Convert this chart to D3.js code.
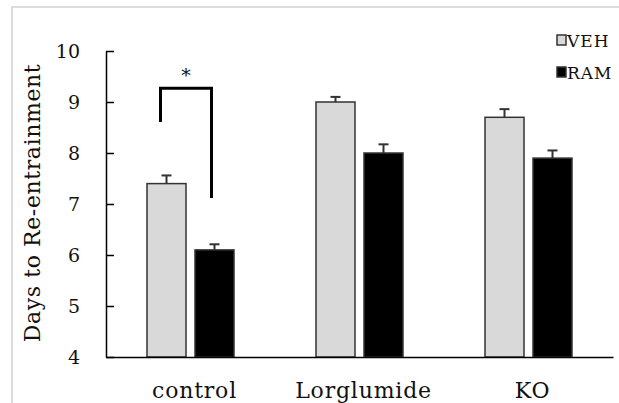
<!DOCTYPE html>
<html>
<head>
<meta charset="utf-8">
<script src="https://cdn.jsdelivr.net/npm/d3@7"></script>
<style>
  html, body { margin: 0; padding: 0; background: #fff; }
  svg, svg text { font-family: "DejaVu Serif", "Liberation Serif", serif; }
  svg { display: block; }
</style>
</head>
<body>
<div id="chart"></div>
<script>
// Days to re-entrainment, VEH vs RAM per group

const groups = ['control', 'Lorglumide', 'KO'];
const series = ['VEH', 'RAM'];
const vehValues = [7.4, 9.0, 8.7];
const ramValues = [6.1, 8.0, 7.9];
const vehErrors = [0.16, 0.10, 0.16];
const ramErrors = [0.11, 0.17, 0.15];
const yTicks = [4, 5, 6, 7, 8, 9, 10];
// significance bracket: group, bracket top, left leg end, right leg end
const sigBrackets = [{ group: 'control', top: 9.27, left: 8.61, right: 7.12, label: '*' }];

const colors = { VEH: '#d9d9d9', RAM: '#000000' };

const W = 619, H = 403;
const plot = { left: 106, right: 613, top: 51, bottom: 357 };

const svg = d3.select('#chart')
    .append('svg')
    .attr('width', W)
    .attr('height', H);

// light frame around the figure
svg.append('rect')
    .attr('x', 12)
    .attr('y', 7)
    .attr('width', W + 20)
    .attr('height', H + 20)
    .attr('fill', 'none')
    .attr('stroke', '#dcdcdc')
    .attr('stroke-width', 2);

const rows = groups.map((g, i) => ({
    group: g,
    VEH: { value: vehValues[i], err: vehErrors[i] },
    RAM: { value: ramValues[i], err: ramErrors[i] }
}));

// Scales
const x0 = d3.scaleBand()
    .domain(groups)
    .range([plot.left, plot.right]);

const x1 = d3.scaleBand()
    .domain(series)
    .range([41, 128])
    .paddingInner(0.1875);

const y = d3.scaleLinear()
    .domain([4, 10])
    .range([plot.bottom, plot.top]);

// Bars
const groupG = svg.selectAll('.group')
    .data(rows)
    .enter()
    .append('g')
    .attr('class', 'group')
    .attr('transform', d => `translate(${x0(d.group)},0)`);

groupG.selectAll('rect')
    .data(d => series.map(s => ({ key: s, value: d[s].value })))
    .enter()
    .append('rect')
    .attr('x', d => x1(d.key))
    .attr('y', d => y(d.value))
    .attr('width', x1.bandwidth())
    .attr('height', d => y(4) - y(d.value))
    .attr('fill', d => colors[d.key])
    .attr('stroke', '#333')
    .attr('stroke-width', 1.5);

// Error bars (upper only)
const errG = groupG.selectAll('.err')
    .data(d => series.map(s => ({ key: s, value: d[s].value, err: d[s].err })))
    .enter()
    .append('g')
    .attr('class', 'err')
    .attr('stroke', '#333')
    .attr('stroke-width', 2);

errG.append('line')
    .attr('x1', d => x1(d.key) + x1.bandwidth() / 2)
    .attr('x2', d => x1(d.key) + x1.bandwidth() / 2)
    .attr('y1', d => y(d.value))
    .attr('y2', d => y(d.value + d.err));

errG.append('line')
    .attr('x1', d => x1(d.key) + x1.bandwidth() / 2 - 5)
    .attr('x2', d => x1(d.key) + x1.bandwidth() / 2 + 5)
    .attr('y1', d => y(d.value + d.err))
    .attr('y2', d => y(d.value + d.err));

// Axes
const yAxis = svg.append('g')
    .attr('transform', `translate(${plot.left},0)`)
    .call(d3.axisLeft(y)
        .tickValues(yTicks)
        .tickFormat(d3.format('d'))
        .tickSizeInner(-8)
        .tickSizeOuter(0)
        .tickPadding(26));

yAxis.attr('font-family', null).attr('font-size', 19);
yAxis.select('.domain').attr('stroke', '#000').attr('stroke-width', 1.5);
yAxis.selectAll('.tick line').attr('stroke', '#000').attr('stroke-width', 1.5);
yAxis.selectAll('.tick text').attr('fill', '#111');

const xAxis = svg.append('g')
    .attr('transform', `translate(0,${plot.bottom})`)
    .call(d3.axisBottom(x0).tickSize(0).tickPadding(0));

xAxis.attr('font-family', null).attr('font-size', 22);
xAxis.select('.domain').attr('stroke', '#000').attr('stroke-width', 1.5);
xAxis.selectAll('.tick text')
    .attr('fill', '#111')
    .attr('letter-spacing', 0.8)
    .attr('dy', 0)
    .attr('x', 4)
    .attr('y', 41);

// Y-axis label
svg.append('text')
    .attr('transform', 'rotate(-90)')
    .attr('x', -203)
    .attr('y', 40)
    .attr('text-anchor', 'middle')
    .attr('font-size', 22)
    .attr('letter-spacing', 0.6)
    .attr('fill', '#111')
    .text('Days to Re-entrainment');

// Significance bracket
sigBrackets.forEach(b => {
    const lx = x0(b.group) + x1('VEH') + x1.bandwidth() / 2 - 6;
    const rx = x0(b.group) + x1('RAM') + x1.bandwidth() / 2 - 3;
    svg.append('path')
        .attr('d', `M${lx},${y(b.left)}V${y(b.top)}H${rx}V${y(b.right)}`)
        .attr('fill', 'none')
        .attr('stroke', '#000')
        .attr('stroke-width', 3);
    svg.append('text')
        .attr('x', (lx + rx) / 2)
        .attr('y', y(b.top) - 6)
        .attr('text-anchor', 'middle')
        .attr('font-size', 19)
        .attr('fill', '#111')
        .text(b.label);
});

// Legend
const legend = svg.append('g')
    .attr('transform', 'translate(557,35)');

series.forEach((s, i) => {
    const row = legend.append('g').attr('transform', `translate(0,${i * 32})`);
    row.append('rect')
        .attr('width', 9)
        .attr('height', 10)
        .attr('fill', colors[s])
        .attr('stroke', '#333')
        .attr('stroke-width', 1.5);
    row.append('text')
        .attr('x', 10)
        .attr('y', 12)
        .attr('font-size', 17)
        .attr('letter-spacing', 1)
        .attr('fill', '#111')
        .text(s);
});
</script>
</body>
</html>
